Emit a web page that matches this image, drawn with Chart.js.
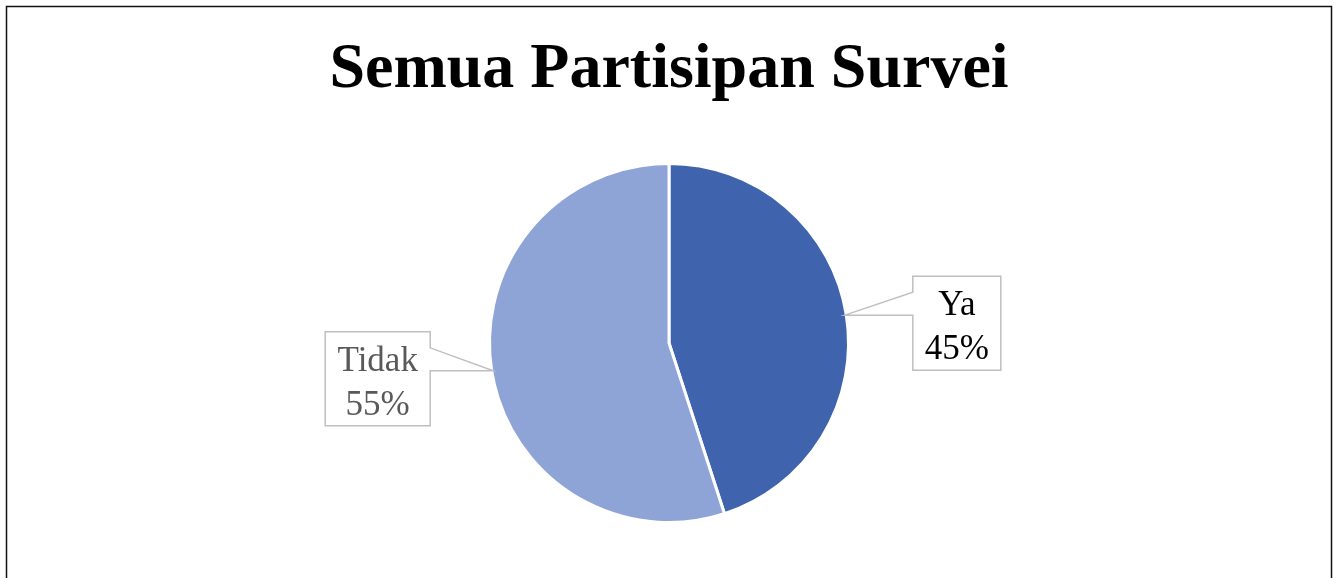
<!DOCTYPE html>
<html>
<head>
<meta charset="utf-8">
<script src="https://cdn.jsdelivr.net/npm/chart.js@4/dist/chart.umd.min.js"></script>
<style>
  html, body { margin: 0; padding: 0; background: #fff; }
  #wrap { width: 1338px; height: 578px; }
</style>
</head>
<body>
<div id="wrap"><canvas id="grafico" width="1338" height="578"></canvas></div>
<script>
// Dados do gráfico
const judul = 'Semua Partisipan Survei';
const kategori = ['Ya', 'Tidak'];
const persen = [45, 55];
const warna = ['#3F64AD', '#8FA4D6'];
const warnaTeks = ['#000000', '#595959'];

// Fundo branco, moldura e título
const pluginMoldura = {
  id: 'moldura',
  beforeDraw(chart) {
    const ctx = chart.ctx;
    ctx.save();
    ctx.fillStyle = '#fff';
    ctx.fillRect(0, 0, chart.width, chart.height);
    ctx.strokeStyle = '#111';
    ctx.lineWidth = 1.5;
    ctx.strokeRect(6.5, 6.5, 1325, 700);
    ctx.fillStyle = '#000';
    ctx.font = 'bold 64px "Liberation Serif", "Times New Roman", serif';
    ctx.textAlign = 'center';
    ctx.textBaseline = 'alphabetic';
    ctx.fillText(judul, chart.width / 2, 87);
    ctx.restore();
  }
};

// Rótulos em caixa com ponteiro (estilo Excel)
const pluginRotulo = {
  id: 'rotulo',
  afterDatasetsDraw(chart) {
    const ctx = chart.ctx;
    const arcs = chart.getDatasetMeta(0).data;
    ctx.save();
    arcs.forEach((arc, i) => {
      const p = arc.getProps(['x', 'y', 'startAngle', 'endAngle', 'outerRadius'], true);
      const meio = (p.startAngle + p.endAngle) / 2;
      const r = p.outerRadius - 1.5;
      const ax = p.x + Math.cos(meio) * r;
      const ay = p.y + Math.sin(meio) * r;
      const kanan = Math.cos(meio) >= 0;
      const lebar = kanan ? 88 : 105;
      const tinggi = 94;
      const topo = ay - 39;
      const cunha = ay - 23;
      let kiri, borda;
      ctx.beginPath();
      if (kanan) {
        kiri = ax + 68;
        ctx.moveTo(kiri, topo);
        ctx.lineTo(kiri + lebar, topo);
        ctx.lineTo(kiri + lebar, topo + tinggi);
        ctx.lineTo(kiri, topo + tinggi);
        ctx.lineTo(kiri, ay);
        ctx.lineTo(ax, ay);
        ctx.lineTo(kiri, cunha);
        ctx.closePath();
      } else {
        borda = ax - 63;
        kiri = borda - lebar;
        ctx.moveTo(kiri, topo);
        ctx.lineTo(borda, topo);
        ctx.lineTo(borda, cunha);
        ctx.lineTo(ax, ay);
        ctx.lineTo(borda, ay);
        ctx.lineTo(borda, topo + tinggi);
        ctx.lineTo(kiri, topo + tinggi);
        ctx.closePath();
      }
      ctx.fillStyle = '#fff';
      ctx.fill();
      ctx.strokeStyle = '#BFBFBF';
      ctx.lineWidth = 1.5;
      ctx.stroke();

      ctx.fillStyle = warnaTeks[i];
      ctx.font = '35px "Liberation Serif", "Times New Roman", serif';
      ctx.textAlign = 'center';
      ctx.textBaseline = 'alphabetic';
      const cx = kiri + lebar / 2;
      ctx.fillText(kategori[i], cx, topo + 39);
      ctx.fillText(persen[i] + '%', cx, topo + 83);
    });
    ctx.restore();
  }
};

new Chart(document.getElementById('grafico').getContext('2d'), {
  type: 'pie',
  data: {
    labels: kategori,
    datasets: [{
      data: persen,
      backgroundColor: warna,
      borderColor: '#fff',
      borderWidth: 3
    }]
  },
  options: {
    responsive: false,
    animation: false,
    layout: {
      padding: { top: 162, bottom: 54, left: 0, right: 0 }
    },
    plugins: {
      legend: { display: false },
      tooltip: { enabled: false },
      title: { display: false }
    }
  },
  plugins: [pluginMoldura, pluginRotulo]
});
</script>
</body>
</html>
